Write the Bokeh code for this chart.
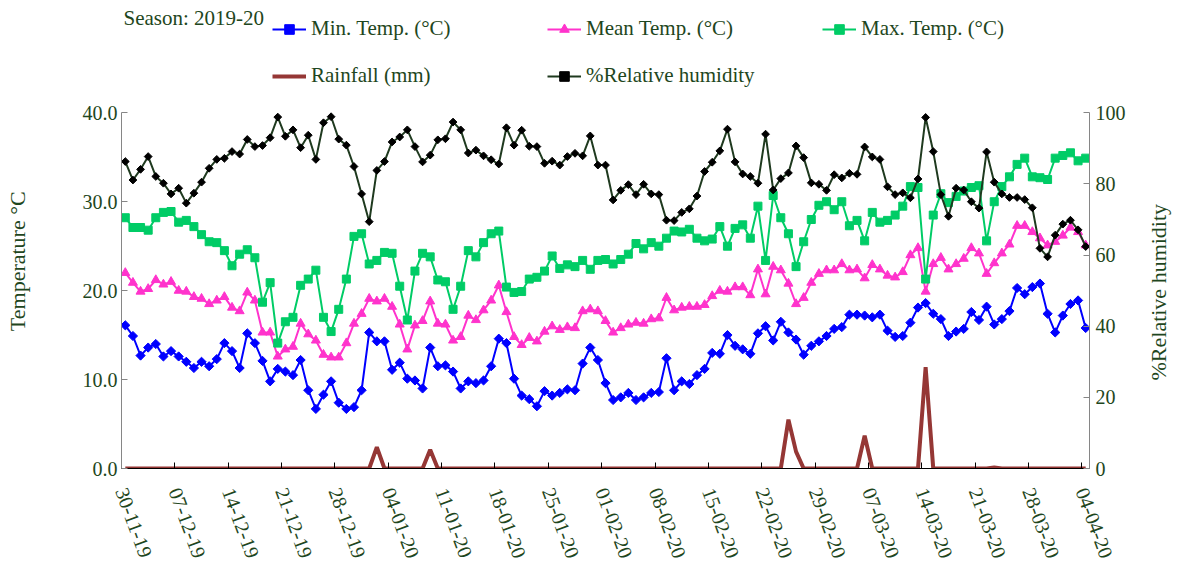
import numpy as np
from bokeh.plotting import figure
from bokeh.models import (Range1d, LinearAxis, FixedTicker, Legend, LegendItem, Label,
                          PrintfTickFormatter)
from bokeh.embed import file_html
from bokeh.resources import INLINE

# ---------------- data ----------------
tick_labels = ["30-11-19", "07-12-19", "14-12-19", "21-12-19", "28-12-19", "04-01-20",
               "11-01-20", "18-01-20", "25-01-20", "01-02-20", "08-02-20", "15-02-20",
               "22-02-20", "29-02-20", "07-03-20", "14-03-20", "21-03-20", "28-03-20",
               "04-04-20"]

min_temp = [16.1, 14.9, 12.7, 13.6, 14.0, 12.6, 13.2, 12.6, 12.0, 11.3,
            12.0, 11.5, 12.3, 14.1, 13.2, 11.3, 15.2, 14.1, 12.1, 9.8,
            11.2, 10.9, 10.5, 12.2, 8.8, 6.7, 8.3, 9.8, 7.4, 6.7,
            6.9, 8.8, 15.3, 14.3, 14.3, 11.1, 11.9, 10.1, 9.9, 9.0,
            13.6, 11.5, 11.6, 10.9, 9.0, 9.8, 9.6, 9.9, 11.5, 14.6,
            14.1, 10.1, 8.2, 7.8, 7.0, 8.7, 8.2, 8.5, 8.9, 8.8,
            11.8, 13.6, 12.2, 9.6, 7.7, 8.0, 8.5, 7.7, 8.0, 8.5,
            8.6, 12.4, 8.8, 9.8, 9.5, 10.5, 11.2, 13.0, 12.9, 15.0,
            13.8, 13.4, 12.9, 15.2, 16.0, 14.4, 16.5, 15.3, 14.5, 12.8,
            13.8, 14.3, 14.9, 15.7, 15.9, 17.3, 17.3, 17.2, 17.0, 17.3,
            15.5, 14.8, 14.9, 16.4, 18.1, 18.6, 17.4, 16.8, 14.9, 15.4,
            15.7, 17.6, 16.7, 18.2, 16.2, 16.8, 17.7, 20.3, 19.6, 20.4,
            20.8, 17.4, 15.3, 17.2, 18.5, 18.9, 15.8]

mean_temp = [22.0, 20.9, 19.9, 20.2, 21.2, 20.7, 21.0, 20.0, 19.9, 19.3,
             19.1, 18.5, 18.9, 19.3, 18.1, 17.7, 19.8, 18.9, 15.3, 15.3,
             12.6, 13.4, 13.7, 16.3, 15.1, 14.4, 12.8, 12.5, 12.5, 14.1,
             16.3, 17.4, 19.1, 18.8, 19.1, 18.2, 16.2, 13.4, 16.1, 16.6,
             18.8, 16.3, 16.2, 14.4, 14.8, 17.2, 16.7, 17.8, 18.9, 20.6,
             17.6, 14.8, 13.9, 14.7, 14.3, 15.4, 16.0, 15.6, 15.9, 15.8,
             17.7, 17.9, 17.7, 16.6, 15.3, 15.8, 16.2, 16.4, 16.3, 16.8,
             16.9, 19.2, 17.8, 18.1, 18.2, 18.2, 18.4, 19.4, 20.0, 19.9,
             20.4, 20.4, 19.5, 22.4, 19.6, 22.7, 22.3, 20.8, 18.5, 19.2,
             20.9, 21.9, 22.3, 22.3, 23.0, 22.3, 22.4, 21.4, 22.9, 22.4,
             21.7, 21.5, 22.1, 24.0, 24.8, 19.9, 23.0, 23.7, 22.4, 23.0,
             23.6, 24.8, 24.2, 21.9, 23.1, 24.2, 25.2, 27.3, 27.3, 26.6,
             25.9, 25.1, 25.5, 26.2, 27.1, 26.6, 25.1]

max_temp = [28.2, 27.1, 27.1, 26.8, 28.2, 28.8, 28.9, 27.7, 27.9, 27.2,
            26.3, 25.5, 25.4, 24.5, 22.8, 24.1, 24.6, 23.7, 18.7, 20.9,
            14.1, 16.5, 17.0, 20.6, 21.3, 22.3, 17.0, 15.4, 17.9, 21.3,
            26.1, 26.4, 23.0, 23.4, 24.3, 24.2, 20.5, 16.7, 22.2, 24.2,
            23.8, 21.2, 21.0, 17.9, 20.5, 24.5, 23.8, 25.4, 26.4, 26.7,
            20.4, 19.8, 19.9, 21.3, 21.5, 22.2, 23.9, 22.5, 22.9, 22.7,
            23.4, 22.4, 23.4, 23.5, 23.0, 23.5, 24.1, 25.3, 24.7, 25.4,
            25.0, 25.9, 26.7, 26.6, 26.9, 25.9, 25.6, 25.8, 27.2, 25.0,
            27.0, 27.4, 25.9, 29.5, 23.4, 30.7, 28.2, 26.4, 22.7, 25.5,
            28.0, 29.6, 30.0, 29.1, 30.0, 27.3, 27.9, 25.6, 28.8, 27.7,
            27.9, 28.5, 29.5, 31.7, 31.6, 21.3, 28.5, 30.9, 29.9, 30.6,
            31.2, 31.6, 31.8, 25.6, 30.0, 31.7, 32.8, 34.2, 34.9, 32.8,
            32.7, 32.5, 34.9, 35.2, 35.5, 34.6, 34.9]

rainfall = [0, 0, 0, 0, 0, 0, 0, 0, 0, 0,
            0, 0, 0, 0, 0, 0, 0, 0, 0, 0,
            0, 0, 0, 0, 0, 0, 0, 0, 0, 0,
            0, 0, 0, 2.4, 0, 0, 0, 0, 0, 0,
            2.1, 0, 0, 0, 0, 0, 0, 0, 0, 0,
            0, 0, 0, 0, 0, 0, 0, 0, 0, 0,
            0, 0, 0, 0, 0, 0, 0, 0, 0, 0,
            0, 0, 0, 0, 0, 0, 0, 0, 0, 0,
            0, 0, 0, 0, 0, 0, 0, 5.5, 1.9, 0,
            0, 0, 0, 0, 0, 0, 0, 3.7, 0, 0,
            0, 0, 0, 0, 0, 11.4, 0, 0, 0, 0,
            0, 0, 0, 0, 0.1, 0, 0, 0, 0, 0,
            0, 0, 0, 0, 0, 0, 0]

rel_humidity = [86.3, 81.1, 84.1, 87.7, 82.1, 80.2, 77.2, 78.8, 74.6, 77.4,
                80.5, 84.4, 86.9, 87.2, 89.1, 88.4, 92.5, 90.5, 90.8, 93.0,
                98.8, 93.4, 95.2, 90.2, 93.7, 86.9, 97.2, 98.9, 92.6, 90.9,
                84.9, 77.2, 69.4, 83.8, 86.3, 91.8, 93.2, 95.2, 90.5, 86.2,
                88.1, 92.4, 92.7, 97.4, 95.2, 88.7, 89.5, 87.9, 86.8, 85.6,
                95.8, 90.9, 95.1, 90.6, 90.5, 85.8, 86.4, 85.3, 87.7, 88.6,
                87.9, 93.5, 85.3, 85.3, 75.5, 78.2, 79.8, 77.0, 79.9, 77.2,
                77.0, 69.8, 69.7, 72.0, 73.0, 76.6, 83.5, 86.1, 89.3, 95.4,
                86.2, 82.8, 82.1, 80.2, 94.0, 78.3, 81.5, 83.1, 90.7, 87.4,
                80.3, 79.9, 78.2, 82.6, 81.7, 83.0, 82.7, 90.4, 87.6, 86.9,
                79.2, 77.0, 77.5, 76.1, 81.4, 98.7, 89.1, 77.0, 70.9, 78.8,
                78.3, 75.0, 73.2, 89.0, 80.5, 77.2, 76.2, 76.2, 75.6, 73.3,
                61.9, 59.5, 65.6, 68.7, 69.8, 67.1, 62.4]

n_days = len(min_temp)
days = np.arange(n_days) + 0.5      # each day sits in the middle of its slot
week_ticks = [7 * k for k in range(len(tick_labels))]
temp_max_axis, rh_max_axis = 40, 100

# ---------------- layout (pixels) ----------------
W, H = 1186, 565
F_LEFT, F_RIGHT, F_TOP, F_BOTTOM = 121, 1091, 4, 471     # plotting frame
AXIS_TOP = 113                                           # where 40 / 100 sit
stretch = (F_BOTTOM - F_TOP) / (F_BOTTOM - AXIS_TOP)      # frame taller than the axes

FONT = "Liberation Serif"
TXT = "#1e4620"
AX = "#868686"
C_MIN, C_MEAN, C_MAX = "#0000FF", "#FF33CC", "#00CC66"
C_RAIN, C_RH_LINE, C_RH_MARK = "#953735", "#1f3a1f", "#000000"
NB = "\u00a0"

p = figure(width=W, height=H, output_backend="svg", toolbar_location=None,
           x_range=Range1d(0, n_days), y_range=Range1d(0, temp_max_axis * stretch),
           min_border_left=F_LEFT, min_border_right=W - F_RIGHT,
           min_border_top=F_TOP, min_border_bottom=H - F_BOTTOM)
p.title.visible = False
p.extra_y_ranges = {"rh": Range1d(0, rh_max_axis * stretch)}
p.outline_line_color = None
p.xgrid.visible = False
p.ygrid.visible = False

# series
r_min_l = p.line(days, min_temp, line_color=C_MIN, line_width=2)
r_min_m = p.scatter(days, min_temp, marker="square", angle=np.pi / 4, size=6.5,
                    fill_color=C_MIN, line_color=C_MIN)
r_mean_l = p.line(days, mean_temp, line_color=C_MEAN, line_width=2)
r_mean_m = p.scatter(days, mean_temp, marker="triangle", size=9,
                     fill_color=C_MEAN, line_color=C_MEAN)
r_max_l = p.line(days, max_temp, line_color=C_MAX, line_width=2)
r_max_m = p.scatter(days, max_temp, marker="square", size=8,
                    fill_color=C_MAX, line_color=C_MAX)
r_rain = p.line(days, rainfall, line_color=C_RAIN, line_width=4)
r_rh_l = p.line(days, rel_humidity, line_color=C_RH_LINE, line_width=2, y_range_name="rh")
r_rh_m = p.scatter(days, rel_humidity, marker="square", angle=np.pi / 4, size=5.5,
                   fill_color=C_RH_MARK, line_color=C_RH_MARK, y_range_name="rh")

# axes
xa = p.xaxis[0]
xa.ticker = FixedTicker(ticks=week_ticks)
xa.major_label_overrides = {t: lab for t, lab in zip(week_ticks, tick_labels)}
xa.major_label_orientation = -1.22
xa.axis_line_color = "black"
xa.major_tick_line_color = "black"
xa.major_tick_in = 6
xa.major_tick_out = 0
xa.minor_tick_line_color = None
xa.major_label_standoff = 20

ya = p.yaxis[0]
ya.ticker = FixedTicker(ticks=[0, 10, 20, 30, 40])
ya.formatter = PrintfTickFormatter(format="%.1f")
ya.bounds = (0, temp_max_axis)
ya.major_label_standoff = 4
ya.axis_label = "Temperature °C" + NB * 9
ya.axis_label_standoff = 50

ra = LinearAxis(y_range_name="rh", ticker=FixedTicker(ticks=[0, 20, 40, 60, 80, 100]),
                formatter=PrintfTickFormatter(format="%d"), bounds=(0, rh_max_axis))
ra.major_label_standoff = 6
props = ra.properties()
if "axis_label_orientation" in props and "axis_label_align" in props:
    ra.axis_label_orientation = np.pi / 2
    ra.axis_label_align = "start"
    ra.axis_label = NB * 16 + "%Relative humidity"
else:
    ra.axis_label = NB * 18 + "%Relative humidity"
ra.axis_label_standoff = 30
p.add_layout(ra, "right")

for ax in (ya, ra):
    ax.axis_line_color = AX
    ax.major_tick_line_color = AX
    ax.major_tick_in = 6
    ax.major_tick_out = 0
    ax.minor_tick_line_color = None
    ax.axis_label_text_font = FONT
    ax.axis_label_text_font_size = "22px"
    ax.axis_label_text_font_style = "normal"
    ax.axis_label_text_color = TXT

for ax in (xa, ya, ra):
    ax.major_label_text_font = FONT
    ax.major_label_text_font_size = "20px"
    ax.major_label_text_color = TXT

# legends (two rows) inside the tall frame, above the axes' top
def make_legend(items, top_px):
    lg = Legend(items=items, location=(151, F_BOTTOM - top_px - 24),
                orientation="horizontal",
                glyph_width=34, glyph_height=24, label_height=24, label_width=213,
                label_standoff=5, spacing=23, padding=0, margin=0,
                border_line_color=None, background_fill_alpha=0,
                label_text_font=FONT, label_text_font_size="21px",
                label_text_color=TXT)
    p.add_layout(lg)

make_legend([
    LegendItem(label="Min. Temp. (°C)", renderers=[r_min_l, r_min_m]),
    LegendItem(label="Mean Temp. (°C)", renderers=[r_mean_l, r_mean_m]),
    LegendItem(label="Max. Temp. (°C)", renderers=[r_max_l, r_max_m]),
], 20)
make_legend([
    LegendItem(label="Rainfall (mm)", renderers=[r_rain]),
    LegendItem(label="%Relative humidity", renderers=[r_rh_l, r_rh_m]),
], 67)

p.add_layout(Label(x=2, y=F_BOTTOM - 20, x_units="screen", y_units="screen",
                   text="Season: 2019-20", text_align="left", text_baseline="middle",
                   text_font=FONT, text_font_size="21px", text_color=TXT))

open("out.html", "w").write(file_html(p, INLINE))
